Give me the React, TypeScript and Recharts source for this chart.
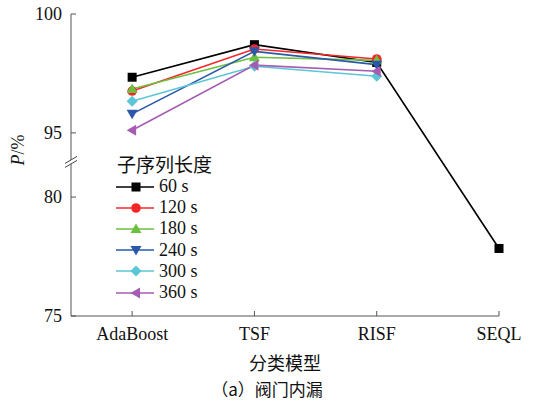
import { LineChart, Line, XAxis, YAxis, ReferenceDot } from 'recharts'

const models = ['AdaBoost', 'TSF', 'RISF', 'SEQL']
const lengths = ['60 s', '120 s', '180 s', '240 s', '300 s', '360 s']
const p60 = [97.34, 98.71, 97.96, 77.84]
const p120 = [96.76, 98.53, 98.11, null]
const p180 = [96.85, 98.18, 98.05, null]
const p240 = [95.8, 98.43, 97.87, null]
const p300 = [96.33, 97.8, 97.38, null]
const p360 = [95.11, 97.85, 97.59, null]
const yTicks = [75, 80, 95, 100]

const series = [p60, p120, p180, p240, p300, p360]
const colors = ['#000000', '#f5262a', '#6cbf3f', '#2b58a8', '#5cc6d6', '#a45db2']
const kinds = ['square', 'circle', 'up', 'down', 'diamond', 'left']

// broken axis: 75-80 below, 95-100 above, GAP units of empty space between
const GAP = 2.7
const toPlot = (v: number) => (v >= 90 ? v - 95 + 5 + GAP : v - 75)
const fromPlot = (p: number) => (p > 5 + GAP / 2 ? p - 5 - GAP + 95 : p + 75)

const data = models.map((m, i) => {
  const row: Record<string, number | null> = { x: i }
  series.forEach((s, k) => {
    const v = s[i]
    row['s' + k] = v == null ? null : toPlot(v)
  })
  return row
})

const serif = '"Liberation Serif", "Times New Roman", serif'
const cjk = '"Noto Sans CJK SC", sans-serif'

function Marker({ kind, cx, cy, color }: { kind: string; cx: number; cy: number; color: string }) {
  switch (kind) {
    case 'square':
      return <rect x={cx - 4.5} y={cy - 4.5} width={9} height={9} fill={color} />
    case 'circle':
      return <circle cx={cx} cy={cy} r={4.8} fill={color} />
    case 'up':
      return <polygon points={`${cx},${cy - 5.5} ${cx + 5.5},${cy + 4} ${cx - 5.5},${cy + 4}`} fill={color} />
    case 'down':
      return <polygon points={`${cx},${cy + 5.5} ${cx + 5.5},${cy - 4} ${cx - 5.5},${cy - 4}`} fill={color} />
    case 'diamond':
      return <polygon points={`${cx},${cy - 5.5} ${cx + 5.5},${cy} ${cx},${cy + 5.5} ${cx - 5.5},${cy}`} fill={color} />
    default:
      return <polygon points={`${cx - 5.5},${cy} ${cx + 4},${cy - 5.5} ${cx + 4},${cy + 5.5}`} fill={color} />
  }
}

function YTick(props: any) {
  const { x, y, payload } = props
  return (
    <g>
      <line x1={x + 6} x2={x + 11} y1={y} y2={y} stroke="#555" strokeWidth={1} />
      <text x={x - 3} y={y} dy={6} textAnchor="end" fontFamily={serif} fontSize={18} fill="#111">
        {Math.round(fromPlot(payload.value))}
      </text>
    </g>
  )
}

function XTick(props: any) {
  const { x, y, payload } = props
  return (
    <g>
      <line x1={x} x2={x} y1={y - 10} y2={y - 15} stroke="#555" strokeWidth={1} />
      <text x={x} y={y} dy={14} textAnchor="middle" fontFamily={serif} fontSize={18} fill="#111">
        {models[payload.value]}
      </text>
    </g>
  )
}

function BreakMark(props: any) {
  const { cx, cy } = props
  return (
    <g>
      <polygon points={`${cx - 6},${cy + 2} ${cx + 6},${cy - 5} ${cx + 6},${cy - 1} ${cx - 6},${cy + 6}`} fill="#fff" />
      <line x1={cx - 6} y1={cy + 2} x2={cx + 6} y2={cy - 5} stroke="#444" strokeWidth={1} />
      <line x1={cx - 6} y1={cy + 6} x2={cx + 6} y2={cy - 1} stroke="#444" strokeWidth={1} />
    </g>
  )
}

function LegendBox() {
  return (
    <div style={{ position: 'absolute', left: 116, top: 152 }}>
      <div style={{ fontFamily: cjk, fontSize: 19, lineHeight: '24px', color: '#111', marginLeft: 1 }}>子序列长度</div>
      {lengths.map((l, i) => (
        <div key={l} style={{ display: 'flex', alignItems: 'center', height: 21.2 }}>
          <svg width={40} height={16}>
            <line x1={0} x2={38} y1={8} y2={8} stroke={colors[i]} strokeWidth={1.6} />
            <Marker kind={kinds[i]} cx={20} cy={8} color={colors[i]} />
          </svg>
          <span style={{ fontFamily: serif, fontSize: 18, color: '#111', marginLeft: 3 }}>{l}</span>
        </div>
      ))}
    </div>
  )
}

export default function App() {
  return (
    <div style={{ position: 'absolute', left: 0, top: 0, width: 537, height: 402, background: '#fff' }}>
      <LineChart width={537} height={402} data={data} margin={{ top: 14, right: 38, bottom: 56, left: 0 }}>
        <XAxis
          dataKey="x"
          type="number"
          domain={[-0.5, 3]}
          ticks={[0, 1, 2, 3]}
          height={30}
          tickSize={0}
          tickMargin={10}
          tickLine={false}
          tick={<XTick />}
          axisLine={{ stroke: '#555', strokeWidth: 1 }}
        />
        <YAxis
          type="number"
          domain={[0, 10 + GAP]}
          ticks={yTicks.map(toPlot)}
          width={71}
          tickSize={0}
          tickMargin={6}
          tickLine={false}
          tick={<YTick />}
          axisLine={{ stroke: '#555', strokeWidth: 1 }}
          allowDataOverflow
        />
        {series.map((s, k) => (
          <Line
            key={k}
            dataKey={'s' + k}
            stroke={colors[k]}
            strokeWidth={1.6}
            isAnimationActive={false}
            connectNulls={false}
            dot={(p: any) =>
              p.cy == null ? <g key={`d${k}-${p.index}`} /> : (
                <g key={`d${k}-${p.index}`}>
                  <Marker kind={kinds[k]} cx={p.cx} cy={p.cy} color={colors[k]} />
                </g>
              )
            }
            activeDot={false}
          />
        ))}
        <ReferenceDot x={-0.5} y={5 + GAP / 2 + 0.15} r={0} ifOverflow="visible" shape={<BreakMark />} />
      </LineChart>
      <LegendBox />
      <div
        style={{
          position: 'absolute', left: 18, top: 150, transform: 'translate(-50%, -50%) rotate(-90deg)',
          fontFamily: serif, fontSize: 18, color: '#111', whiteSpace: 'nowrap',
        }}
      >
        <i>P</i>/%
      </div>
      <div style={{ position: 'absolute', left: 285, top: 362, transform: 'translate(-50%, -50%)', fontFamily: cjk, fontSize: 18, color: '#111', whiteSpace: 'nowrap' }}>
        分类模型
      </div>
      <div style={{ position: 'absolute', left: 267, top: 388, transform: 'translate(-50%, -50%)', fontFamily: cjk, fontSize: 17, color: '#111', whiteSpace: 'nowrap' }}>
        （a）阀门内漏
      </div>
    </div>
  )
}
